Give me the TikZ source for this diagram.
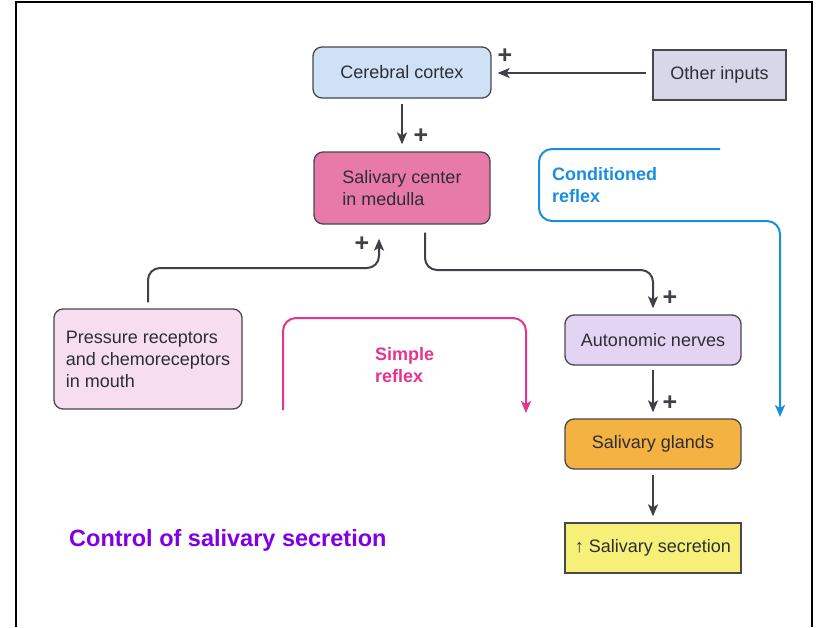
\documentclass[tikz,border=0pt]{standalone}
\usepackage{fontspec}
\setmainfont{Liberation Sans}
\usetikzlibrary{arrows.meta}

\definecolor{arrowgray}{RGB}{64,64,72}
\definecolor{boxgray}{RGB}{72,72,76}
\definecolor{textgray}{RGB}{45,45,52}
\definecolor{cortexblue}{RGB}{207,225,247}
\definecolor{otherfill}{RGB}{214,216,234}
\definecolor{medullapink}{RGB}{232,122,170}
\definecolor{mouthpink}{RGB}{246,222,240}
\definecolor{nervelilac}{RGB}{228,212,244}
\definecolor{glandorange}{RGB}{244,178,66}
\definecolor{secretyellow}{RGB}{246,240,120}
\definecolor{simplepink}{RGB}{230,52,140}
\definecolor{condblue}{RGB}{26,142,222}
\definecolor{titlepurple}{RGB}{128,0,230}

\begin{document}
\begin{tikzpicture}[x=1pt,y=-1pt]

\tikzstyle{line} = [draw=arrowgray, line width=2pt, -{Stealth[length=12pt,width=10pt,inset=3pt]}]
\tikzstyle{reflex} = [line width=2pt, rounded corners=13pt, -{Stealth[length=12pt,width=10pt,inset=3pt]}]
\tikzstyle{block} = [draw=boxgray, line width=1.3pt, rounded corners=9pt, minimum width=176pt, minimum height=50pt, inner sep=0pt, text=textgray, align=left, font=\fontsize{18}{22}\selectfont, node distance=104pt]
\tikzstyle{sharpblock} = [block, rounded corners=0pt]
\tikzstyle{plus} = [text=arrowgray, inner sep=0pt, font=\fontsize{25}{25}\selectfont\bfseries]
\tikzstyle{reflextext} = [align=left, inner sep=0pt, font=\fontsize{18}{22}\selectfont\bfseries]

\useasboundingbox (0,0) rectangle (821,627);
\draw[line width=2pt] (16,627) -- (16,2) -- (812,2) -- (812,627);

\node [block, fill=cortexblue, minimum width=178pt, minimum height=51pt] (cortex) at (402,72.5) {Cerebral cortex};
\node [sharpblock, fill=otherfill, minimum width=133pt] (other) at (719.5,75) {Other inputs};
\node [block, fill=medullapink, minimum height=72pt] (medulla) at (402,188) {Salivary center\\in medulla};
\node [block, fill=mouthpink, minimum width=188pt, minimum height=100pt] (mouth) at (148,359) {Pressure receptors\\and chemoreceptors\\in mouth};
\node [block, fill=nervelilac] (nerves) at (653,340) {Autonomic nerves};
\node [block, fill=glandorange, below of=nerves] (glands) {Salivary glands};
\node [sharpblock, fill=secretyellow, below of=glands] (secretion) {↑ Salivary secretion};

\node [anchor=base west, inner sep=0pt, text=titlepurple, font=\fontsize{23.5}{26}\selectfont\bfseries] (title) at (69,546) {Control of salivary secretion};

%arrows
\path [line, shorten <=6pt, shorten >=6pt] (other.west |- 0,73) -- (cortex.east |- 0,73);
\path [line, shorten <=5pt, shorten >=7pt] (cortex.south) -- (medulla.north);
\coordinate (jl) at (379,268);
\path [line, rounded corners=12pt, shorten <=6pt, shorten >=14pt] (mouth.north) |- (jl) -- (jl |- medulla.south);
\coordinate (jr) at (425,270);
\path [line, rounded corners=12pt, shorten <=8pt, shorten >=6pt] (jr |- medulla.south) -- (jr) -| (nerves.north);
\path [line, shorten <=4pt, shorten >=6pt] (nerves.south) -- (glands.north);
\path [line, shorten <=5pt, shorten >=6pt] (glands.south) -- (secretion.north);

\node [plus] (p1) at (505,56) {+};
\node [plus] (p2) at (421,136) {+};
\node [plus] (p3) at (362,244) {+};
\node [plus] (p4) at (670,298) {+};
\node [plus] (p5) at (670,403) {+};

%reflex loops
\coordinate (sa) at (283,410);
\coordinate (sb) at (283,318);
\coordinate (sc) at (526,318);
\coordinate (sd) at (526,413);
\draw [reflex, draw=simplepink] (sa) -- (sb) -- (sc) -- (sd);
\node [reflextext, text=simplepink, anchor=north west] (simple) at (375,347) {Simple\\reflex};

\coordinate (ca) at (720,149);
\coordinate (cb) at (539,149);
\coordinate (cc) at (539,221);
\coordinate (cd) at (780,221);
\coordinate (ce) at (780,417);
\draw [reflex, draw=condblue] (ca) -- (cb) -- (cc) -- (cd) -- (ce);
\node [reflextext, text=condblue, anchor=north west] (conditioned) at (552,167) {Conditioned\\reflex};

\end{tikzpicture}
\end{document}
